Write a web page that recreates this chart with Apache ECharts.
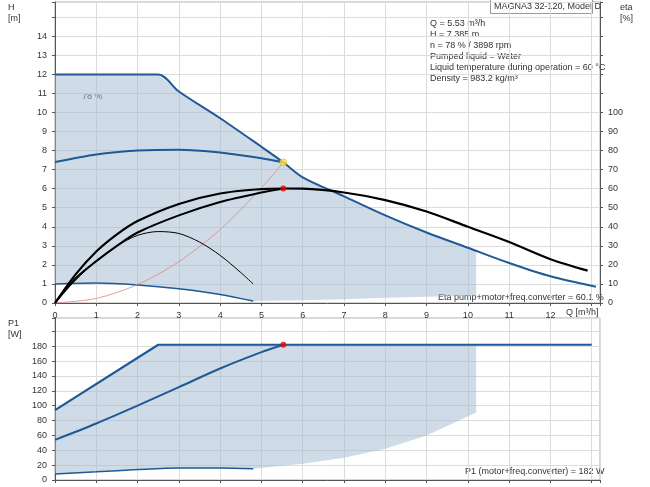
<!DOCTYPE html>
<html><head><meta charset="utf-8">
<script src="https://cdn.jsdelivr.net/npm/echarts@6/dist/echarts.min.js"></script>
<style>html,body{margin:0;background:#fff}#c{width:650px;height:487px}</style>
</head><body><div id="c"></div>
<script>
// head curves [Q, H]
const hMax = [[0,12],[2.5,12],[3,11.1],[4,9.7],[5,8.2],[5.53,7.385],[6,6.6],[7,5.6],[8,4.6],[9,3.7],[10,2.9],[11,2.1],[12,1.4],[13.1,0.85]];
const h78 = [[0,7.4],[1,7.8],[2,8.0],[3,8.05],[4,7.9],[5,7.6],[5.53,7.385]];
const hMin = [[0,1.0],[1,1.05],[2,0.95],[3,0.75],[4,0.45],[4.8,0.1]];
const hFloor = [[4.8,0.1],[6,0.15],[7,0.2],[8,0.27],[9,0.33],[10.2,0.4]];
const hSystem = [[0,0],[1,0.24],[2,0.97],[3,2.17],[4,3.86],[5,6.04],[5.53,7.385]];
// eta curves [Q, %]
const etaMax = [[0,0],[0.5,15],[1,27],[1.5,36],[2,43],[3,52],[4,57.5],[5,59.8],[5.53,60.1],[6,60],[7,58],[8,54],[9,48],[10,40],[11,32],[12,23],[12.9,17]];
const eta78 = [[0,0],[0.5,13],[1,22],[1.5,30],[2,37],[3,46],[4,53],[5,58],[5.53,60.1]];
const etaMin = [[0,0],[0.5,12],[1,22],[1.5,30],[2,35.5],[2.5,37.5],[3,36.5],[3.5,32],[4,25],[4.5,16],[4.8,10]];
// power curves [Q, W]
const pMax = [[0,94],[2.5,182],[13,182]];
const p78 = [[0,54],[1,76],[2,100],[3,125],[4,150],[5,172],[5.53,182]];
const pMin = [[0,8],[1,11],[2,14],[3,16],[4,16],[4.8,15]];
const pFloor = [[4.8,15],[6,22],[7,30],[8,42],[9,60],[10.2,91]];
const duty = {q:5.53, h:7.385, eta:60.1, p:182};

const blue = '#1f5a96', fill = 'rgba(160,185,210,0.5)', grid = '#dcdcdc';
const font = 'Liberation Sans';

function region(upper, lower, cut) {
  const top = upper.filter(p => p[0] <= cut);
  const yAtCut = (() => { for (let i=1;i<upper.length;i++){const a=upper[i-1],b=upper[i];
    if (b[0]>=cut) return a[1]+(b[1]-a[1])*(cut-a[0])/(b[0]-a[0]);} })();
  return top.concat([[cut,yAtCut]]).concat(lower.slice().reverse());
}
function poly(data, xi, yi) {
  return {type:'custom', xAxisIndex:xi, yAxisIndex:yi, silent:true, z:1,
    data:[0], renderItem:(p, api) => ({type:'polygon',
      shape:{points:data.map(d=>api.coord(d))}, style:{fill:fill}})};
}
function line(data, xi, yi, color, w) {
  return {type:'line', xAxisIndex:xi, yAxisIndex:yi, data:data, symbol:'none', smooth:0.3,
    lineStyle:{color:color, width:w}, z:3};
}
const hArea = region(hMax, hMin.concat(hFloor.slice(1)), 10.2);
const pArea = region(pMax, pMin.concat(pFloor.slice(1)), 10.2);

const axisLbl = {fontFamily:font, fontSize:9, color:'#333'};
const xCommon = {type:'value', min:0, max:13.2, interval:1,
  axisLine:{lineStyle:{color:'#555'}}, axisTick:{show:true,length:3},
  splitLine:{lineStyle:{color:grid}}};

const chart = echarts.init(document.getElementById('c'));
chart.setOption({
  animation:false,
  textStyle:{fontFamily:font},
  grid:[{left:55,right:50,top:2,height:301,show:true,borderColor:'#aaa'},
        {left:55,right:50,top:318,height:162,show:true,borderColor:'#aaa'}],
  xAxis:[Object.assign({gridIndex:0, axisLabel:Object.assign({},axisLbl,{formatter:v=>v>12?'':v})}, xCommon),
         Object.assign({gridIndex:1, axisLabel:{show:false}}, xCommon)],
  yAxis:[
    {gridIndex:0, type:'value', min:0, max:15.8, interval:1, axisLine:{show:true,lineStyle:{color:'#555'}},
     axisTick:{show:true,length:3}, splitLine:{lineStyle:{color:grid}},
     axisLabel:Object.assign({},axisLbl,{formatter:v=>v>14?'':v})},
    {gridIndex:0, type:'value', position:'right', min:0, max:158, interval:10, axisLine:{show:true,lineStyle:{color:'#555'}},
     axisTick:{show:true,length:3}, splitLine:{show:false},
     axisLabel:Object.assign({},axisLbl,{formatter:v=>v>100?'':v})},
    {gridIndex:1, type:'value', min:0, max:218, interval:20, axisLine:{show:true,lineStyle:{color:'#555'}},
     axisTick:{show:true,length:3}, splitLine:{lineStyle:{color:grid}},
     axisLabel:Object.assign({},axisLbl,{formatter:v=>v>180?'':v})}
  ],
  graphic:[
    {type:'text', left:8, top:2, style:{text:'H\n[m]', font:'9px '+font, fill:'#333', lineHeight:11}},
    {type:'text', left:620, top:2, style:{text:'eta\n[%]', font:'9px '+font, fill:'#333', lineHeight:11}},
    {type:'text', left:8, top:318, style:{text:'P1\n[W]', font:'9px '+font, fill:'#333', lineHeight:11}},
    {type:'text', left:566, top:308, style:{text:'Q [m³/h]', font:'9px '+font, fill:'#333'}},
    {type:'rect', left:490, top:-1, shape:{width:102,height:14}, style:{fill:'#fff',stroke:'#999'}},
    {type:'text', left:494, top:2, style:{text:'MAGNA3 32-120, Model D', font:'9px '+font, fill:'#333'}},
    {type:'text', left:430, top:18, style:{text:'Q = 5.53 m³/h\nH = 7.385 m\nn = 78 % / 3898 rpm\nPumped liquid = Water\nLiquid temperature during operation = 60 °C\nDensity = 983.2 kg/m³',
      font:'9px '+font, fill:'#333', lineHeight:11}},
    {type:'text', left:438, top:293, style:{text:'Eta pump+motor+freq.converter = 60.1 %', font:'9px '+font, fill:'#333'}},
    {type:'text', left:465, top:467, style:{text:'P1 (motor+freq.converter) = 182 W', font:'9px '+font, fill:'#333'}},
    {type:'text', left:82, top:92, style:{text:'78 %', font:'9px '+font, fill:'#333'}}
  ],
  series:[
    poly(hArea,0,0), poly(pArea,1,2),
    line(hMax,0,0,blue,2), line(h78,0,0,blue,2), line(hMin,0,0,blue,1.5),
    line(hSystem,0,0,'#e88080',0.8),
    line(etaMax,0,1,'#000',2.2), line(eta78,0,1,'#000',2), line(etaMin,0,1,'#000',1),
    Object.assign(line(pMax,1,2,blue,2.2),{smooth:false}), line(p78,1,2,blue,2), line(pMin,1,2,blue,1.5),
    {type:'scatter', xAxisIndex:0, yAxisIndex:0, data:[[duty.q,duty.h]], symbolSize:7, z:5,
     itemStyle:{color:'#ffe24a', borderColor:'#c9a000', borderWidth:0.5}},
    {type:'scatter', xAxisIndex:0, yAxisIndex:1, data:[[duty.q,duty.eta]], symbolSize:6, z:5, itemStyle:{color:'#e00'}},
    {type:'scatter', xAxisIndex:1, yAxisIndex:2, data:[[duty.q,duty.p]], symbolSize:6, z:5, itemStyle:{color:'#e00'}}
  ]
});
</script></body></html>
